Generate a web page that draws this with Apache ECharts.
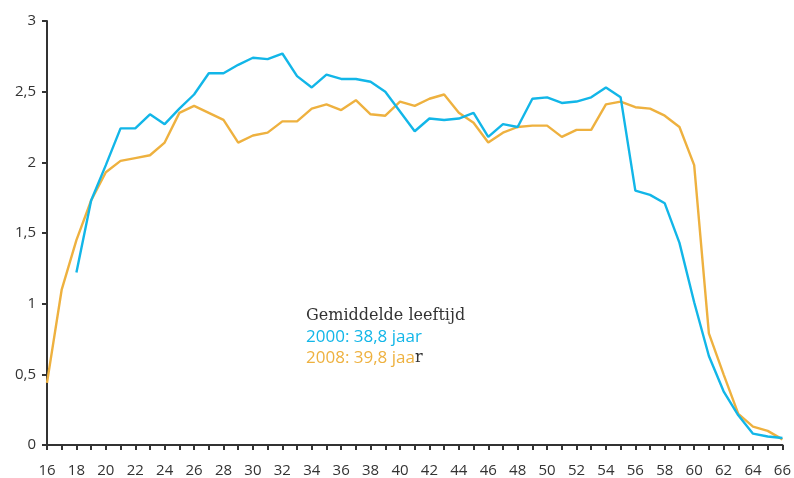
<!DOCTYPE html>
<html>
<head>
<meta charset="utf-8">
<style>
  html, body { margin: 0; padding: 0; background: #fff; }
  #chart { width: 794px; height: 478px; }
</style>
<script src="https://cdn.jsdelivr.net/npm/echarts@6/dist/echarts.min.js"></script>
</head>
<body>
<div id="chart"></div>
<script>
// leeftijd 16 t/m 66
const ages = [16, 17, 18, 19, 20, 21, 22, 23, 24, 25, 26, 27, 28, 29, 30, 31, 32, 33, 34, 35,
  36, 37, 38, 39, 40, 41, 42, 43, 44, 45, 46, 47, 48, 49, 50, 51, 52, 53, 54, 55,
  56, 57, 58, 59, 60, 61, 62, 63, 64, 65, 66];

// 2000 begint pas bij 18 jaar
const values2000 = [null, null, 1.22, 1.73, 1.98, 2.24, 2.24, 2.34, 2.27, 2.38, 2.48, 2.63, 2.63, 2.69, 2.74, 2.73, 2.77, 2.61, 2.53, 2.62,
  2.59, 2.59, 2.57, 2.50, 2.36, 2.22, 2.31, 2.30, 2.31, 2.35, 2.18, 2.27, 2.25, 2.45, 2.46, 2.42, 2.43, 2.46, 2.53, 2.46,
  1.80, 1.77, 1.71, 1.43, 1.01, 0.63, 0.38, 0.21, 0.08, 0.06, 0.05];

const values2008 = [0.44, 1.10, 1.45, 1.73, 1.93, 2.01, 2.03, 2.05, 2.14, 2.35, 2.40, 2.35, 2.30, 2.14, 2.19, 2.21, 2.29, 2.29, 2.38, 2.41,
  2.37, 2.44, 2.34, 2.33, 2.43, 2.40, 2.45, 2.48, 2.35, 2.28, 2.14, 2.21, 2.25, 2.26, 2.26, 2.18, 2.23, 2.23, 2.41, 2.43,
  2.39, 2.38, 2.33, 2.25, 1.98, 0.79, 0.50, 0.22, 0.13, 0.10, 0.04];

const yTicks = [0, 0.5, 1, 1.5, 2, 2.5, 3];

const BLUE = '#12b6e8';
const ORANGE = '#eeb13f';
const INK = '#333333';

const chart = echarts.init(document.getElementById('chart'), null, { renderer: 'canvas' });

chart.setOption({
  backgroundColor: '#ffffff',
  animation: false,
  grid: { left: 47, right: 10, top: 21, bottom: 33 },
  xAxis: {
    type: 'category',
    data: ages,
    boundaryGap: false,
    axisLine: { lineStyle: { color: INK, width: 2 } },
    axisTick: { interval: 0, length: 5, lineStyle: { color: INK, width: 2 } },
    axisLabel: {
      interval: 1,
      color: INK,
      fontFamily: 'Open Sans',
      fontSize: 15,
      margin: 18,
    },
  },
  yAxis: {
    type: 'value',
    min: yTicks[0],
    max: yTicks[yTicks.length - 1],
    interval: 0.5,
    splitLine: { show: false },
    axisLine: { show: true, lineStyle: { color: INK, width: 2 } },
    axisTick: { show: true, length: 5, lineStyle: { color: INK, width: 2 } },
    axisLabel: {
      color: INK,
      fontFamily: 'Open Sans',
      fontSize: 15,
      margin: 11,
      formatter: v => String(v).replace('.', ','),
    },
  },
  series: [
    {
      name: '2000',
      type: 'line',
      data: values2000,
      showSymbol: false,
      connectNulls: false,
      lineStyle: { color: BLUE, width: 2.4 },
      itemStyle: { color: BLUE },
      z: 3,
    },
    {
      name: '2008',
      type: 'line',
      data: values2008,
      showSymbol: false,
      lineStyle: { color: ORANGE, width: 2.4 },
      itemStyle: { color: ORANGE },
      z: 2,
    },
  ],
  graphic: [
    {
      type: 'text',
      left: 306,
      top: 308,
      style: {
        text: '{t|Gemiddelde leeftijd}\n{b|2000: 38,8 jaar}\n{o|2008: 39,8 jaa}{t|r}',
        rich: {
          t: { fontFamily: 'DejaVu Serif', fontSize: 16, fill: INK, lineHeight: 21 },
          b: { fontFamily: 'Open Sans', fontSize: 17, fill: BLUE, lineHeight: 21 },
          o: { fontFamily: 'Open Sans', fontSize: 17, fill: ORANGE, lineHeight: 21 },
        },
      },
    },
  ],
});
</script>
</body>
</html>
